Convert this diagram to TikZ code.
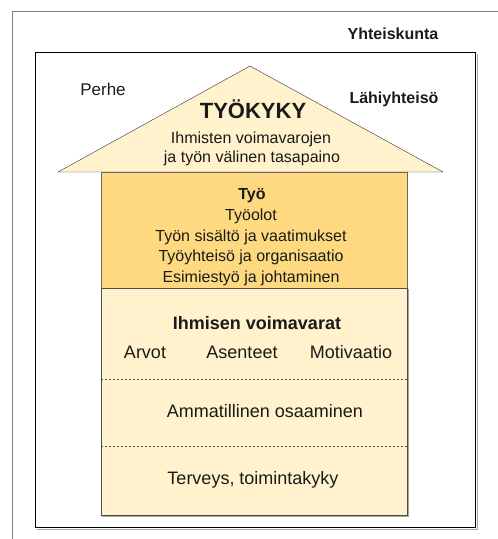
\documentclass[tikz,border=0pt]{standalone}
\usepackage{fontspec}
\setmainfont{Liberation Sans}
\definecolor{roofcream}{HTML}{FFF2CC}
\definecolor{workgold}{HTML}{FFD980}
\definecolor{framegray}{HTML}{808080}
\definecolor{inkdark}{HTML}{1A1A1A}
\tikzset{
  lbl/.style={anchor=base,inner sep=0pt,text=inkdark,font=\fontsize{16}{19}\selectfont},
  lblbold/.style={lbl,font=\fontsize{16}{19}\selectfont\bfseries},
  lblbig/.style={lbl,font=\fontsize{18}{21}\selectfont},
  shadowline/.style={draw=gray!70,line width=1pt},
}

\begin{document}
\begin{tikzpicture}[x=1pt,y=-1pt]
	\useasboundingbox (0,0) rectangle (498,539);

	% frames
	\draw[framegray] (12,539) -- (12,11) -- (498,11);
	\draw[shadowline] (37,529) -- (477,529) -- (477,54);
	\draw[black,line width=1pt] (35,52) rectangle (475,527);

	% house
	\filldraw[fill=roofcream,draw=black!80] (58,172) -- (250,66) -- (443,172) -- cycle;
	\filldraw[fill=workgold,draw=black!60] (101,172) rectangle (407,288);
	\draw[shadowline] (102,516.5) -- (408.5,516.5) -- (408.5,289);
	\filldraw[fill=roofcream,draw=black!70] (101,288) rectangle (407,515);
	\draw[black!70,dash pattern=on 2pt off 2pt] (101,379) -- (407,379);
	\draw[black!70,dash pattern=on 2pt off 2pt] (101,446) -- (407,446);

	% surroundings
	\node[lblbold] (society) at (393,39) {Yhteiskunta};
	\node[lbl,font=\fontsize{17}{20}\selectfont] (family) at (103,95) {Perhe};
	\node[lblbold] (community) at (394,103) {Lähiyhteisö};

	% roof
	\node[lbl,font=\fontsize{22}{26}\selectfont\bfseries] (workability) at (253,118) {TYÖKYKY};
	\node[lbl] (balanceA) at (251,143) {Ihmisten voimavarojen};
	\node[lbl] (balanceB) at (252,162) {ja työn välinen tasapaino};

	% work floor
	\node[lblbold] (work) at (252,199) {Työ};
	\node[lbl] (conditions) at (251,220) {Työolot};
	\node[lbl] (content) at (251,241) {Työn sisältö ja vaatimukset};
	\node[lbl] (organisation) at (251,261.5) {Työyhteisö ja organisaatio};
	\node[lbl] (management) at (251,282) {Esimiestyö ja johtaminen};

	% human resources
	\node[lblbig,font=\fontsize{18}{21}\selectfont\bfseries] (resources) at (257,329) {Ihmisen voimavarat};
	\node[lblbig] (values) at (145,358) {Arvot};
	\node[lblbig] (attitudes) at (242,358) {Asenteet};
	\node[lblbig] (motivation) at (351,358) {Motivaatio};
	\node[lblbig] (competence) at (265,417) {Ammatillinen osaaminen};
	\node[lblbig] (health) at (253,484) {Terveys, toimintakyky};

\end{tikzpicture}
\end{document}
